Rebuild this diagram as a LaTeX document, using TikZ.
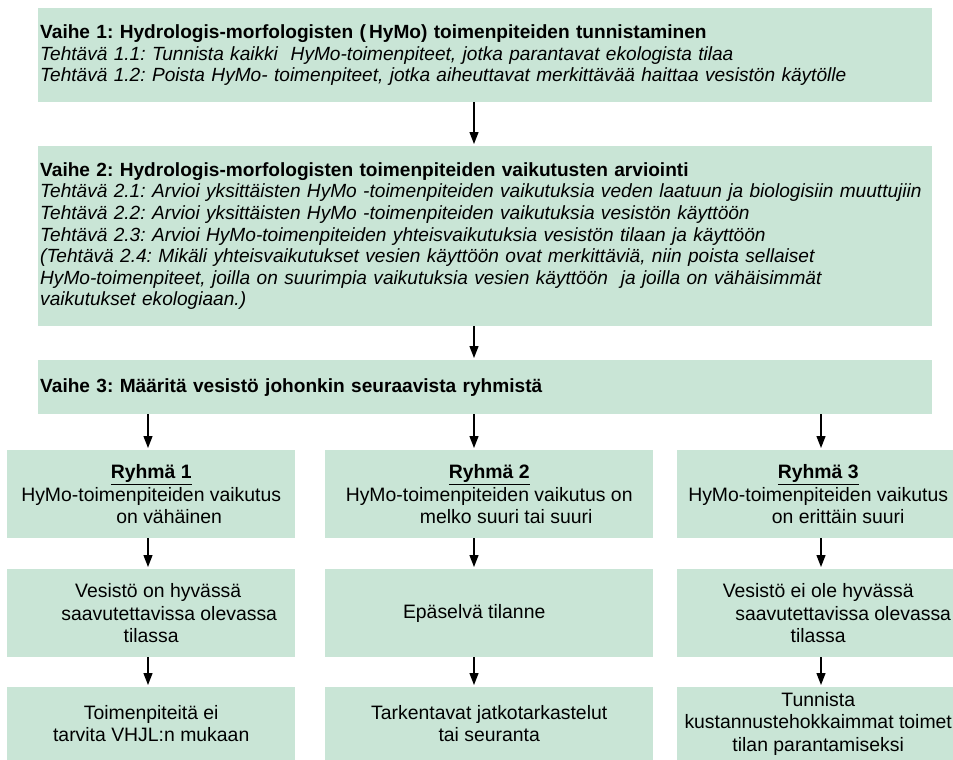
\documentclass[tikz,border=0pt]{standalone}
\usepackage{fontspec}
\setmainfont{Liberation Sans}
\usetikzlibrary{arrows.meta}
\definecolor{vihrea}{RGB}{201,229,214}
\frenchspacing
\tikzset{
  vaihe/.style={fill=vihrea, anchor=north west, text width=890pt, inner xsep=2pt, inner ysep=0pt,
    align=left, font=\fontsize{19.1}{21.6}\selectfont},
  ryhma/.style={fill=vihrea, anchor=north west, align=center, inner sep=0pt,
    minimum height=88pt, font=\fontsize{19.4}{22.6}\selectfont},
  nuoli/.style={-{Triangle[length=12pt,width=9pt]}, line width=1.3pt, shorten >=2pt}
}
\begin{document}
\begin{tikzpicture}[x=1pt,y=-1pt]
\useasboundingbox (0,0) rectangle (953,760);
% sarakkeiden akselit
\coordinate (k1) at (148,0);
\coordinate (k2) at (474,0);
\coordinate (k3) at (821,0);

\node[vaihe, minimum height=94pt] (vaihe1) at (38,8) {\hyphenpenalty=10000
  \textbf{Vaihe 1: Hydrologis-morfologisten (\,HyMo) toimenpiteiden tunnistaminen}\\
  \textit{Tehtävä 1.1: Tunnista kaikki \ HyMo-toimenpiteet, jotka parantavat ekologista tilaa}\\
  \textit{Tehtävä 1.2: Poista HyMo- toimenpiteet, jotka aiheuttavat merkittävää haittaa vesistön käytölle}};
\node[vaihe, minimum height=180pt] (vaihe2) at (38,146) {\hyphenpenalty=10000
  \textbf{Vaihe 2: Hydrologis-morfologisten toimenpiteiden vaikutusten arviointi}\\
  \textit{Tehtävä 2.1: Arvioi yksittäisten HyMo -toimenpiteiden vaikutuksia veden laatuun ja biologisiin muuttujiin}\\
  \textit{Tehtävä 2.2: Arvioi yksittäisten HyMo -toimenpiteiden vaikutuksia vesistön käyttöön}\\
  \textit{Tehtävä 2.3: Arvioi HyMo-toimenpiteiden yhteisvaikutuksia vesistön tilaan ja käyttöön}\\
  \textit{(Tehtävä 2.4: Mikäli yhteisvaikutukset vesien käyttöön ovat merkittäviä, niin poista sellaiset}\\
  \textit{HyMo-toimenpiteet, joilla on suurimpia vaikutuksia vesien käyttöön \ ja joilla on vähäisimmät}\\
  \textit{vaikutukset ekologiaan.)}};
\node[vaihe, minimum height=54pt] (vaihe3) at (38,360) {\textbf{Vaihe 3: Määritä vesistö johonkin seuraavista ryhmistä}};

% ryhmät
\node[ryhma, minimum width=288pt] (ryhma1) at (7,450) {\underline{\textbf{Ryhmä 1}}\\
  HyMo-toimenpiteiden vaikutus\\ \hspace*{36pt}on vähäinen};
\node[ryhma, minimum width=328pt] (ryhma2) at (325,450) {\underline{\textbf{Ryhmä 2}}\\
  HyMo-toimenpiteiden vaikutus on\hspace*{26pt}\\ \hspace*{34pt}melko suuri tai suuri};
\node[ryhma, minimum width=282pt] (ryhma3) at (677,450) {\underline{\textbf{Ryhmä 3}}\\
  HyMo-toimenpiteiden vaikutus\\ \hspace*{40pt}on erittäin suuri};

\node[ryhma, minimum width=288pt] (tila1) at (7,569) {\hspace*{14pt}Vesistö on hyvässä\\
  \hspace*{36pt}saavutettavissa olevassa\\ tilassa};
\node[ryhma, minimum width=328pt] (tila2) at (325,569) {Epäselvä tilanne\hspace*{30pt}};
\node[ryhma, minimum width=282pt] (tila3) at (677,569) {Vesistö ei ole hyvässä\\
  \hspace*{50pt}saavutettavissa olevassa\\ tilassa};

\node[ryhma, minimum width=288pt, minimum height=73pt] (toimi1) at (7,687) {Toimenpiteitä ei\\
  tarvita VHJL:n mukaan};
\node[ryhma, minimum width=328pt, minimum height=73pt] (toimi2) at (325,687) {Tarkentavat jatkotarkastelut\\
  tai seuranta};
\node[ryhma, minimum width=282pt, minimum height=73pt] (toimi3) at (677,687) {Tunnista\\
  kustannustehokkaimmat toimet\\ tilan parantamiseksi};

% nuolet
\draw[nuoli] (vaihe1.south -| k2) -- (vaihe2.north -| k2);
\draw[nuoli] (vaihe2.south -| k2) -- (vaihe3.north -| k2);
\foreach \i in {1,2,3} {
  \draw[nuoli] (vaihe3.south -| k\i) -- (ryhma\i.north -| k\i);
  \draw[nuoli] (ryhma\i.south -| k\i) -- (tila\i.north -| k\i);
  \draw[nuoli] (tila\i.south -| k\i) -- (toimi\i.north -| k\i);
}
\end{tikzpicture}
\end{document}
